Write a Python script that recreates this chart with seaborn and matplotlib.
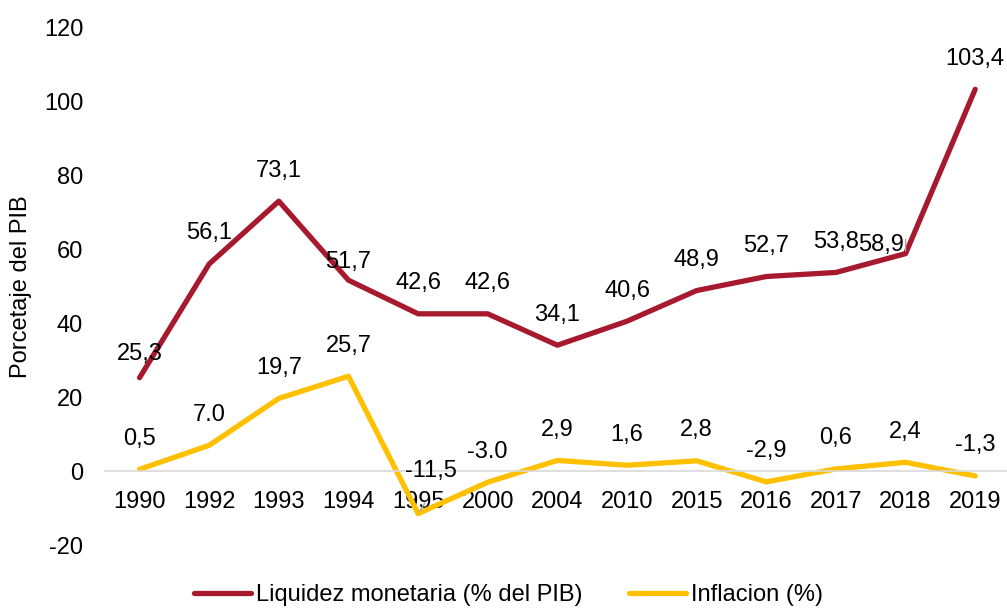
import numpy as np
import pandas as pd
import matplotlib
matplotlib.use("Agg")
import matplotlib.pyplot as plt
import seaborn as sns

years = ["1990", "1992", "1993", "1994", "1995", "2000", "2004",
         "2010", "2015", "2016", "2017", "2018", "2019"]
liquidez = [25.3, 56.1, 73.1, 51.7, 42.6, 42.6, 34.1, 40.6, 48.9, 52.7, 53.8, 58.9, 103.4]
inflacion = [0.5, 7.0, 19.7, 25.7, -11.5, -3.0, 2.9, 1.6, 2.8, -2.9, 0.6, 2.4, -1.3]
liquidez_lbl = ["25,3", "56,1", "73,1", "51,7", "42,6", "42,6", "34,1", "40,6",
                "48,9", "52,7", "53,8", "58,9", "103,4"]
inflacion_lbl = ["0,5", "7.0", "19,7", "25,7", "-11,5", "-3.0", "2,9", "1,6",
                 "2,8", "-2,9", "0,6", "2,4", "-1,3"]

red = "#A6192E"
yellow = "#FFC000"

sns.set_style("white")
plt.rcParams["font.family"] = ["Liberation Sans", "DejaVu Sans"]
plt.rcParams["font.size"] = 17
plt.rcParams["axes.unicode_minus"] = False
plt.rcParams["text.color"] = "black"

df = pd.DataFrame({"pos": np.arange(len(years)), "liq": liquidez, "inf": inflacion})

fig = plt.figure(figsize=(10.07, 6.08), dpi=100)
ax = fig.add_axes([0.104, 0.1036, 0.899, 0.8504])

sns.lineplot(data=df, x="pos", y="liq", color=red, lw=3.8, ax=ax,
             label="Liquidez monetaria (% del PIB)")
sns.lineplot(data=df, x="pos", y="inf", color=yellow, lw=3.8, ax=ax,
             label="Inflacion (%)")

# data labels (offsets in points, ~30px above the point)
for i, (v, t) in enumerate(zip(liquidez, liquidez_lbl)):
    dx, dy = 0, 22
    if i == 0:
        dy = 17
    elif i == 3:
        dy = 13
    elif i == 11:
        dx, dy = -18, 6
    ax.annotate(t, (i, v), xytext=(dx, dy), textcoords="offset points",
                ha="center", va="center", fontsize=17, color="black")
for i, (v, t) in enumerate(zip(inflacion, inflacion_lbl)):
    dx, dy = 0, 22
    if i == 4:
        dx, dy = 9, 31
    ax.annotate(t, (i, v), xytext=(dx, dy), textcoords="offset points",
                ha="center", va="center", fontsize=17, color="black")

# leader lines
ax.annotate("", (11, 58.9), xytext=(11, 63.5),
            arrowprops=dict(arrowstyle="-", color="#A6A6A6", lw=1))
ax.annotate("", (4, -11.5), xytext=(4.12, -8.0),
            arrowprops=dict(arrowstyle="-", color="#A6A6A6", lw=1))

ax.set_xlim(-0.5, len(years) - 0.5)
ax.set_ylim(-20, 120)
ax.set_yticks(range(-20, 121, 20))
ax.set_xticks(range(len(years)))
ax.set_xticklabels(years)
ax.set_xlabel("")
ax.set_ylabel("Porcetaje del PIB", fontsize=17, color="black")
ax.yaxis.set_label_coords(-0.080, 0.5)

for s in ["top", "right", "left"]:
    ax.spines[s].set_visible(False)
ax.spines["bottom"].set_position(("data", 0))
ax.spines["bottom"].set_color("#D9D9D9")
ax.spines["bottom"].set_linewidth(1.2)
ax.tick_params(axis="both", length=0, labelsize=17, labelcolor="black")
ax.tick_params(axis="y", pad=15.5)
ax.tick_params(axis="x", pad=14)
ax.grid(False)

ax.legend_.remove()
h, l = ax.get_legend_handles_labels()
fig.legend(h, l, loc="lower center", bbox_to_anchor=(0.505, -0.032), ncol=2,
           frameon=False, fontsize=17, handlelength=2.4, handletextpad=0.2,
           columnspacing=2.0)

fig.savefig("out.png", dpi=100)
